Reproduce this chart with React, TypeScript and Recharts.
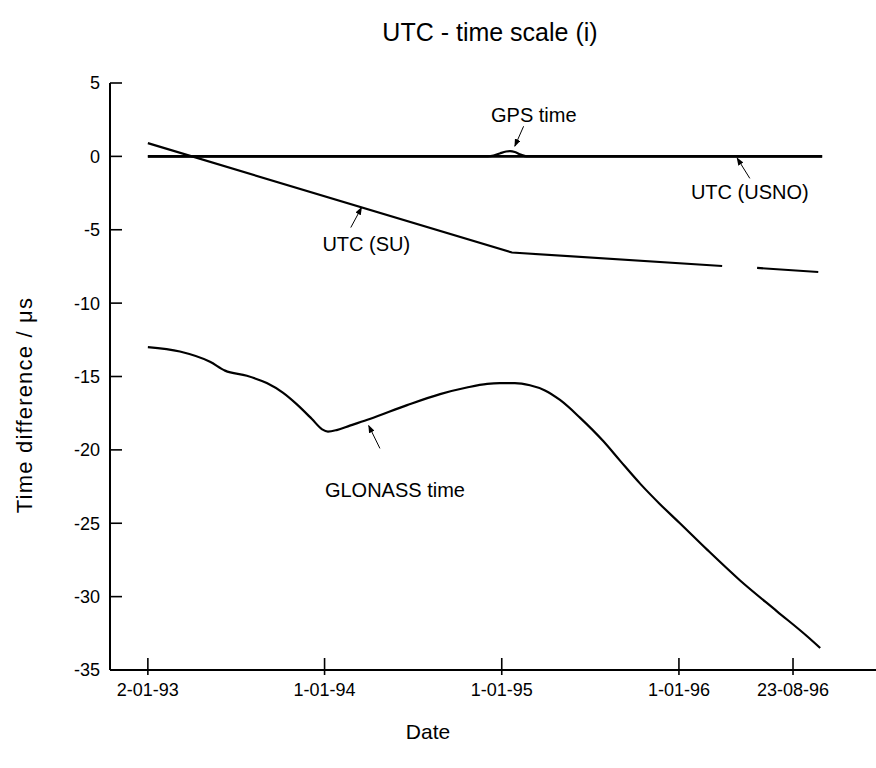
import React from 'react';
import { LineChart, Line, XAxis, YAxis, ReferenceLine, ReferenceDot } from 'recharts';

// x values are days counted from 2-01-93
const tickDays = [0, 364, 729, 1094, 1329];
const tickLabels = ['2-01-93', '1-01-94', '1-01-95', '1-01-96', '23-08-96'];
const yTicks = [5, 0, -5, -10, -15, -20, -25, -30, -35];

const usnoDays = [0, 1389];
const usnoVals = [0, 0];

const gpsDays = [0, 700, 712, 725, 738, 746, 756, 768, 780, 1389];
const gpsVals = [0, 0, 0.05, 0.2, 0.33, 0.36, 0.3, 0.12, 0, 0];

const suDays = [0, 750, 1183, 1219, 1255, 1381];
const suVals = [0.9, -6.55, -7.47, null, -7.6, -7.88];

const glonassDays = [0, 66, 128, 159, 204, 245, 278, 307, 338, 359, 371, 389, 416, 457, 534, 602, 657, 699, 725, 756, 787, 818, 849, 890, 938, 973, 1014, 1055, 1096, 1152, 1220, 1296, 1358, 1385];
const glonassVals = [-13.0, -13.3, -14.0, -14.6, -14.95, -15.45, -16.1, -16.9, -17.9, -18.6, -18.75, -18.65, -18.35, -17.9, -16.95, -16.2, -15.75, -15.5, -15.45, -15.45, -15.6, -15.95, -16.6, -17.8, -19.4, -20.75, -22.3, -23.7, -25.0, -26.8, -28.9, -31.0, -32.7, -33.5];

const annotations = [
  { text: 'GPS time', d: 795, v: 2.8, from: [774, 2.05], to: [756, 0.7] },
  { text: 'UTC (USNO)', d: 1240, v: -2.4, from: [1240, -1.5], to: [1214, -0.12] },
  { text: 'UTC (SU)', d: 450, v: -5.95, from: [418, -4.85], to: [440, -3.5] },
  { text: 'GLONASS time', d: 509, v: -22.7, from: [478, -19.9], to: [455, -18.35] },
];

const toData = (days: number[], vals: (number | null)[]) => days.map((d, i) => ({ d, v: vals[i] }));

const usnoData = toData(usnoDays, usnoVals);
const gpsData = toData(gpsDays, gpsVals);
const suData = toData(suDays, suVals);
const glonassData = toData(glonassDays, glonassVals);

const FONT = '"Liberation Sans", Arial, sans-serif';

const BottomTick = (props: any) => {
  const { x, y, payload } = props;
  const i = tickDays.indexOf(payload.value);
  return (
    <g>
      <line x1={x} y1={y - 12} x2={x} y2={y + 5} stroke="#000" strokeWidth={1.6} />
      <text x={x} y={y + 13} dy="0.71em" textAnchor="middle" fontSize={18} fill="#000" fontFamily={FONT}>
        {tickLabels[i]}
      </text>
    </g>
  );
};

const TopTick = (props: any) => {
  const { x, y } = props;
  return <line x1={x} y1={y} x2={x} y2={y + 12} stroke="#000" strokeWidth={1.6} />;
};

const LeftTick = (props: any) => {
  const { x, y, payload } = props;
  return (
    <g>
      <line x1={x} y1={y} x2={x + 12} y2={y} stroke="#000" strokeWidth={1.6} />
      <text x={x - 10} y={y} dy="0.355em" textAnchor="end" fontSize={18} fill="#000" fontFamily={FONT}>
        {payload.value}
      </text>
    </g>
  );
};

const RightTick = (props: any) => {
  const { x, y } = props;
  return <line x1={x - 13} y1={y} x2={x} y2={y} stroke="#000" strokeWidth={1.6} />;
};

const arrowShape = (p: any) => (
  <line x1={p.x1} y1={p.y1} x2={p.x2} y2={p.y2} stroke="#000" strokeWidth={1} markerEnd="url(#arrowHead)" />
);

export default function App() {
  return (
    <div style={{ position: 'absolute', left: 0, top: 0, width: 876, height: 768, overflow: 'hidden', background: '#fff', fontFamily: FONT }}>
      <svg width={0} height={0} style={{ position: 'absolute' }}>
        <defs>
          <marker id="arrowHead" markerWidth={8} markerHeight={6} refX={7} refY={3} orient="auto" markerUnits="userSpaceOnUse">
            <path d="M0,0 L8,3 L0,6 Z" fill="#000" />
          </marker>
        </defs>
      </svg>
      <div style={{ position: 'absolute', left: 0, top: 18, width: 980, textAlign: 'center', fontSize: 25, color: '#000' }}>
        UTC - time scale (i)
      </div>
      <div style={{ position: 'absolute', left: 328, top: 720, width: 200, textAlign: 'center', fontSize: 21, color: '#000' }}>
        Date
      </div>
      <div
        style={{
          position: 'absolute',
          left: 25,
          top: 405,
          width: 320,
          textAlign: 'center',
          fontSize: 22,
          letterSpacing: 1.2,
          color: '#000',
          transform: 'translate(-50%, -50%) rotate(-90deg)',
          whiteSpace: 'nowrap',
        }}
      >
        Time difference / μs
      </div>
      <div style={{ position: 'absolute', left: 0, top: 0 }}>
        <LineChart width={880} height={768} margin={{ top: 83, right: 3, bottom: 38, left: 60 }}>
          <XAxis
            xAxisId="x"
            dataKey="d"
            type="number"
            domain={[-78, 1502]}
            ticks={tickDays}
            allowDataOverflow
            height={60}
            tickLine={false}
            tickSize={0}
            tickMargin={0}
            tick={<BottomTick />}
            axisLine={{ stroke: '#000', strokeWidth: 2 }}
          />
          <XAxis
            xAxisId="top"
            orientation="top"
            dataKey="d"
            type="number"
            domain={[-78, 1502]}
            ticks={tickDays}
            allowDataOverflow
            height={0}
            tickLine={false}
            tickSize={0}
            tickMargin={0}
            tick={<TopTick />}
            axisLine={{ stroke: '#000', strokeWidth: 2 }}
          />
          <YAxis
            yAxisId="y"
            type="number"
            domain={[-35, 5]}
            ticks={yTicks}
            allowDataOverflow
            width={50}
            tickLine={false}
            tickSize={0}
            tickMargin={0}
            tick={<LeftTick />}
            axisLine={{ stroke: '#000', strokeWidth: 2 }}
          />
          <YAxis
            yAxisId="r"
            orientation="right"
            type="number"
            domain={[-35, 5]}
            ticks={yTicks}
            allowDataOverflow
            width={0}
            tickLine={false}
            tickSize={0}
            tickMargin={0}
            tick={<RightTick />}
            axisLine={{ stroke: '#000', strokeWidth: 2 }}
          />
          <Line xAxisId="x" yAxisId="y" data={usnoData} dataKey="v" type="linear" stroke="#000" strokeWidth={2.6} dot={false} isAnimationActive={false} />
          <Line xAxisId="x" yAxisId="y" data={gpsData} dataKey="v" type="monotone" stroke="#000" strokeWidth={2.2} dot={false} isAnimationActive={false} />
          <Line xAxisId="x" yAxisId="y" data={suData} dataKey="v" type="linear" stroke="#000" strokeWidth={2.2} dot={false} connectNulls={false} isAnimationActive={false} />
          <Line xAxisId="x" yAxisId="y" data={glonassData} dataKey="v" type="monotone" stroke="#000" strokeWidth={2.2} dot={false} isAnimationActive={false} />
          {annotations.map((a) => (
            <ReferenceLine
              key={'arrow-' + a.text}
              xAxisId="x"
              yAxisId="y"
              segment={[{ x: a.from[0], y: a.from[1] }, { x: a.to[0], y: a.to[1] }]}
              shape={arrowShape}
              ifOverflow="visible"
            />
          ))}
          {annotations.map((a) => (
            <ReferenceDot
              key={'label-' + a.text}
              xAxisId="x"
              yAxisId="y"
              x={a.d}
              y={a.v}
              r={1}
              ifOverflow="visible"
              shape={(p: any) => (
                <text x={p.cx} y={p.cy} dy="0.355em" textAnchor="middle" fontSize={20} fill="#000" fontFamily={FONT}>
                  {a.text}
                </text>
              )}
            />
          ))}
        </LineChart>
      </div>
    </div>
  );
}
